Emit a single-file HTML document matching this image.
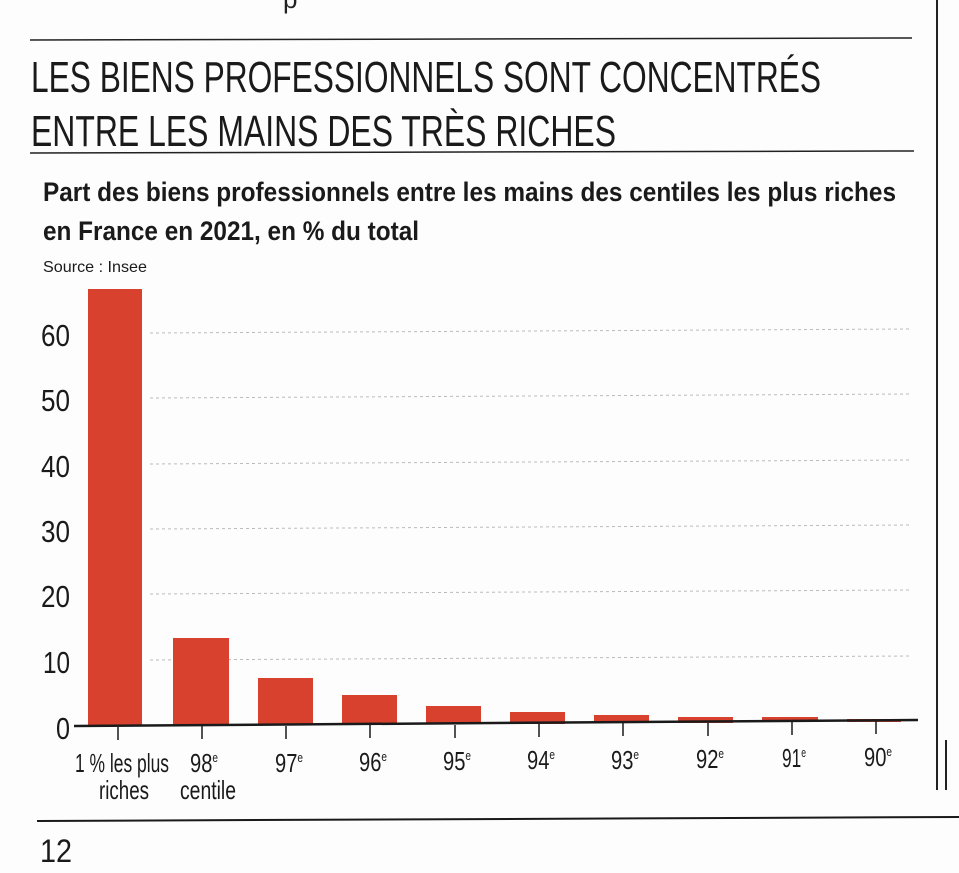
<!DOCTYPE html>
<html><head><meta charset="utf-8"><style>
html,body{margin:0;padding:0;background:#fff}
svg{display:block}
text{font-family:"Liberation Sans Narrow","Liberation Sans",sans-serif}
</style></head><body>
<svg width="959" height="873" viewBox="0 0 959 873" xmlns="http://www.w3.org/2000/svg">
<rect width="959" height="873" fill="#fdfdfd"/>
<text x="283" y="8" font-size="26" font-family="Liberation Serif" fill="#222">p</text>
<line x1="937" y1="0" x2="937" y2="790" stroke="#222" stroke-width="2"/>
<line x1="946" y1="740" x2="946" y2="790" stroke="#222" stroke-width="2"/>
<line x1="30" y1="40" x2="912" y2="38" stroke="#222" stroke-width="1.5"/>
<text x="31" y="92" font-size="44" fill="#1a1a1a" textLength="790" lengthAdjust="spacingAndGlyphs">LES BIENS PROFESSIONNELS SONT CONCENTRÉS</text>
<text x="31" y="146" font-size="44" fill="#1a1a1a" textLength="585" lengthAdjust="spacingAndGlyphs">ENTRE LES MAINS DES TRÈS RICHES</text>
<line x1="30" y1="153" x2="914" y2="151" stroke="#222" stroke-width="1.5"/>
<text x="43" y="201" font-size="27" font-weight="bold" fill="#1a1a1a" textLength="853" lengthAdjust="spacingAndGlyphs">Part des biens professionnels entre les mains des centiles les plus riches</text>
<text x="43" y="240" font-size="27" font-weight="bold" fill="#1a1a1a" textLength="376" lengthAdjust="spacingAndGlyphs">en France en 2021, en % du total</text>
<text x="43" y="272" font-size="16" fill="#1a1a1a" textLength="104" lengthAdjust="spacingAndGlyphs">Source : Insee</text>
<g stroke="#bbb" stroke-width="1" stroke-dasharray="3,3">
<line x1="150" y1="333" x2="912" y2="329"/>
<line x1="150" y1="398" x2="912" y2="394"/>
<line x1="150" y1="464" x2="912" y2="460"/>
<line x1="150" y1="529" x2="912" y2="525"/>
<line x1="150" y1="594" x2="912" y2="590"/>
<line x1="150" y1="660" x2="912" y2="656"/>
</g>
<g font-size="31" fill="#1a1a1a" text-anchor="end">
<text x="70" y="346" textLength="29" lengthAdjust="spacingAndGlyphs">60</text>
<text x="70" y="411" textLength="29" lengthAdjust="spacingAndGlyphs">50</text>
<text x="70" y="477" textLength="29" lengthAdjust="spacingAndGlyphs">40</text>
<text x="70" y="542" textLength="29" lengthAdjust="spacingAndGlyphs">30</text>
<text x="70" y="607" textLength="29" lengthAdjust="spacingAndGlyphs">20</text>
<text x="70" y="673" textLength="27" lengthAdjust="spacingAndGlyphs">10</text>
<text x="70" y="739" textLength="14" lengthAdjust="spacingAndGlyphs">0</text>
</g>
<g fill="#d9412f">
<rect x="88" y="289" width="54" height="437"/>
<rect x="173" y="638" width="56" height="88"/>
<rect x="258" y="678" width="55" height="47"/>
<rect x="342" y="695" width="55" height="30"/>
<rect x="426" y="706" width="55" height="18"/>
<rect x="510" y="712" width="55" height="12"/>
<rect x="594" y="715" width="55" height="8"/>
<rect x="678" y="717" width="55" height="6"/>
<rect x="762" y="717" width="56" height="5"/>
<rect x="847" y="719" width="54" height="3"/>
</g>
<line x1="74" y1="726" x2="918" y2="720" stroke="#1a1a1a" stroke-width="2.5"/>
<g stroke="#1a1a1a" stroke-width="1.5">
<line x1="118" y1="727" x2="118" y2="740"/><line x1="202" y1="726" x2="202" y2="739"/>
<line x1="286" y1="726" x2="286" y2="739"/><line x1="370" y1="725" x2="370" y2="738"/>
<line x1="455" y1="725" x2="455" y2="738"/><line x1="539" y1="724" x2="539" y2="737"/>
<line x1="623" y1="723" x2="623" y2="736"/><line x1="708" y1="723" x2="708" y2="736"/>
<line x1="792" y1="722" x2="792" y2="735"/><line x1="876" y1="721" x2="876" y2="734"/>
</g>
<g font-size="26" fill="#1a1a1a" text-anchor="middle">
<text x="122" y="772" textLength="94" lengthAdjust="spacingAndGlyphs">1 % les plus</text>
<text x="124" y="799" textLength="50" lengthAdjust="spacingAndGlyphs">riches</text>
<text x="204" y="772" textLength="28" lengthAdjust="spacingAndGlyphs">98<tspan font-size="13" dy="-10">e</tspan></text>
<text x="208" y="799" textLength="56" lengthAdjust="spacingAndGlyphs">centile</text>
<text x="289" y="772" textLength="28" lengthAdjust="spacingAndGlyphs">97<tspan font-size="13" dy="-10">e</tspan></text>
<text x="373" y="771" textLength="28" lengthAdjust="spacingAndGlyphs">96<tspan font-size="13" dy="-10">e</tspan></text>
<text x="457" y="770" textLength="28" lengthAdjust="spacingAndGlyphs">95<tspan font-size="13" dy="-10">e</tspan></text>
<text x="541" y="769" textLength="28" lengthAdjust="spacingAndGlyphs">94<tspan font-size="13" dy="-10">e</tspan></text>
<text x="625" y="769" textLength="28" lengthAdjust="spacingAndGlyphs">93<tspan font-size="13" dy="-10">e</tspan></text>
<text x="710" y="768" textLength="28" lengthAdjust="spacingAndGlyphs">92<tspan font-size="13" dy="-10">e</tspan></text>
<text x="794" y="767" textLength="24" lengthAdjust="spacingAndGlyphs">91<tspan font-size="13" dy="-10">e</tspan></text>
<text x="878" y="766" textLength="28" lengthAdjust="spacingAndGlyphs">90<tspan font-size="13" dy="-10">e</tspan></text>
</g>
<line x1="37" y1="821" x2="959" y2="817" stroke="#1a1a1a" stroke-width="2"/>
<text x="40" y="862" font-size="32" fill="#1a1a1a" textLength="32" lengthAdjust="spacingAndGlyphs">12</text>
</svg>
</body></html>
